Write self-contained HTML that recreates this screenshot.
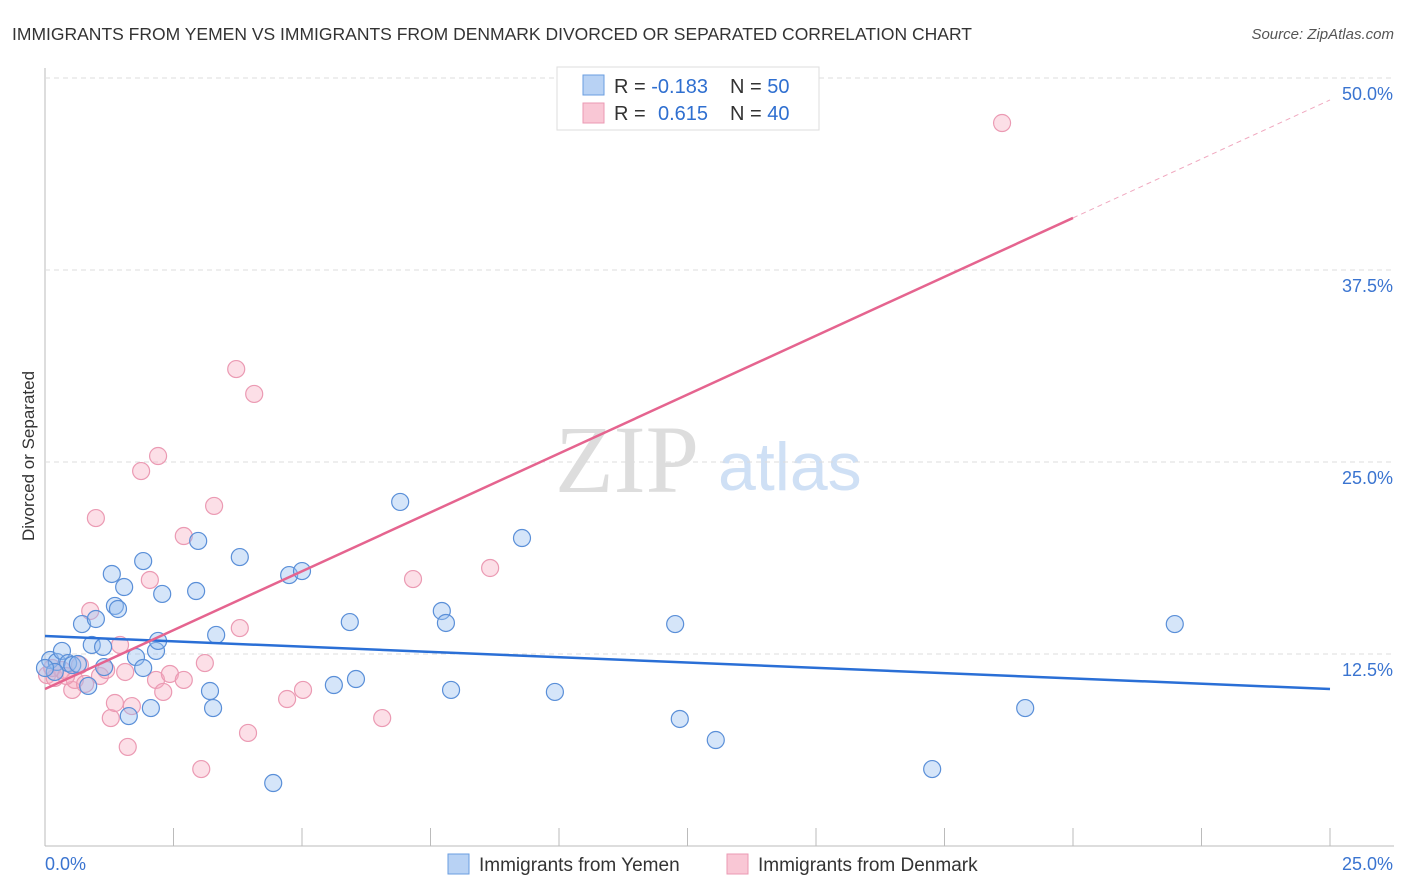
<!DOCTYPE html>
<html><head><meta charset="utf-8"><style>
body{margin:0;background:#fff;font-family:"Liberation Sans",sans-serif}
svg{display:block}
</style></head><body>
<svg id="c" width="1406" height="892" xmlns="http://www.w3.org/2000/svg">
<text x="12" y="40" font-size="17.5" fill="#333">IMMIGRANTS FROM YEMEN VS IMMIGRANTS FROM DENMARK DIVORCED OR SEPARATED CORRELATION CHART</text>
<text x="1394" y="39" font-size="15" fill="#555" font-style="italic" text-anchor="end">Source: ZipAtlas.com</text>
<text x="34" y="456" font-size="17" fill="#333" text-anchor="middle" transform="rotate(-90 34 456)">Divorced or Separated</text>
<text x="555" y="492" font-size="96" fill="#ddd" font-family="Liberation Serif">ZIP</text>
<text x="718" y="490" font-size="68" fill="#cfe0f5">atlas</text>
<g id="grid"></g><g id="pts"></g><g id="lines"></g>
<g>
<rect x="557" y="67" width="262" height="63" fill="#fff" stroke="#ddd"/>
<rect x="583" y="75" width="21" height="20" fill="#b8d2f4" stroke="#6a9ee0"/>
<rect x="583" y="103" width="21" height="20" fill="#f9c7d5" stroke="#eb9ab3"/>
<text x="614" y="93" font-size="20" fill="#333">R = <tspan fill="#2f6fd0">-0.183</tspan><tspan x="730">N = </tspan><tspan fill="#2f6fd0">50</tspan></text>
<text x="614" y="120" font-size="20" fill="#333">R = <tspan x="658" fill="#2f6fd0">0.615</tspan><tspan x="730">N = </tspan><tspan fill="#2f6fd0">40</tspan></text>
</g>
<g>
<rect x="448" y="854" width="21" height="20" fill="#b8d2f4" stroke="#6a9ee0"/>
<text x="479" y="871" font-size="19" fill="#333">Immigrants from Yemen</text>
<rect x="727" y="854" width="21" height="20" fill="#f9c7d5" stroke="#eb9ab3"/>
<text x="758" y="871" font-size="19" fill="#333">Immigrants from Denmark</text>
</g>
</svg>
<script>
const yemenX=[0.10,0.23,0.33,0.45,0.53,0.19,0.72,0.84,0.91,0.99,1.13,1.15,1.30,1.36,1.42,1.54,1.63,1.77,1.91,1.91,2.06,2.16,2.20,2.28,2.94,2.98,3.21,3.27,3.33,3.79,4.44,4.75,5.00,5.62,5.93,6.05,6.91,7.72,7.80,7.90,9.28,9.92,12.26,12.35,13.05,17.26,19.07,21.98,0.64,0.00];
const yemenY=[12.11,11.98,12.70,11.91,11.78,11.33,14.45,10.42,13.09,14.78,12.96,11.65,17.71,15.63,15.43,16.86,8.46,12.30,18.55,11.59,8.98,12.70,13.35,16.41,16.60,19.86,10.09,8.98,13.74,18.81,4.10,17.64,17.90,10.48,14.58,10.87,22.40,15.30,14.52,10.16,20.05,10.03,14.45,8.27,6.90,5.01,8.98,14.45,11.85,11.59];
const denX=[0.04,0.19,0.33,0.53,0.58,0.68,0.88,0.99,1.07,1.19,1.28,1.36,1.46,1.56,1.61,1.69,1.87,2.04,2.16,2.20,2.30,2.43,2.70,2.70,3.04,3.11,3.29,3.72,3.79,3.95,4.07,4.71,5.02,6.56,7.16,8.66,18.62,0.14,0.41,0.78];
const denY=[11.13,10.94,11.46,10.16,10.81,11.78,15.30,21.35,11.07,11.46,8.33,9.31,13.09,11.33,6.45,9.11,24.41,17.32,10.81,25.39,10.03,11.20,20.18,10.81,5.01,11.91,22.14,31.05,14.19,7.36,29.43,9.57,10.16,8.33,17.38,18.10,47.07,11.59,11.07,10.55];
const yTicks=[12.5,25,37.5,50];
const yTickLabels=["12.5%","25.0%","37.5%","50.0%"];
const xTicks=[0,2.5,5,7.5,10,12.5,15,17.5,20,22.5,25];
const yemenTrend=[13.67,10.22];
const denTrend=[10.22,40.89,48.57];
const X=v=>45+v/25*1285, Y=v=>846-v*15.36;
const NS="http://www.w3.org/2000/svg";
function mk(p,t,a){const e=document.createElementNS(NS,t);for(const k in a)e.setAttribute(k,a[k]);p.appendChild(e);return e;}
const g=document.getElementById('grid');
let ax=mk(g,'line',{x1:45,y1:68,x2:45,y2:846,stroke:'#bbb'});


let bx=mk(g,'line',{x1:45,y1:846,x2:1394,y2:846,stroke:'#bbb'});


yTicks.forEach((t,i)=>{
 const l=mk(g,'line',{x1:45,y1:Y(t),x2:1394,y2:Y(t),stroke:'#ddd','stroke-dasharray':'5,4'});
 
 
 const tx=mk(g,'text',{x:1393,y:Y(t)+22,'font-size':18,fill:'#3a74d0','text-anchor':'end'});
 tx.textContent=yTickLabels[i];
 
 
});
xTicks.forEach(t=>{
 const l=mk(g,'line',{x1:X(t),y1:828,x2:X(t),y2:846,stroke:'#bbb'});
 
 
});
let x0=mk(g,'text',{x:45,y:870,'font-size':18,fill:'#3a74d0'});x0.textContent='0.0%';


let x1=mk(g,'text',{x:1393,y:870,'font-size':18,fill:'#3a74d0','text-anchor':'end'});x1.textContent='25.0%';


const P=document.getElementById('pts');
denX.forEach((x,i)=>{
 const c=mk(P,'circle',{cx:X(x),cy:Y(denY[i]),r:8.5,fill:'rgba(246,170,192,0.38)',stroke:'#eb9ab3','stroke-width':1.2});
 
 
});
yemenX.forEach((x,i)=>{
 const c=mk(P,'circle',{cx:X(x),cy:Y(yemenY[i]),r:8.5,fill:'rgba(150,190,240,0.4)',stroke:'#5a8fd8','stroke-width':1.2});
 
 
});
const L=document.getElementById('lines');
let t1=mk(L,'line',{x1:X(0),y1:Y(yemenTrend[0]),x2:X(25),y2:Y(yemenTrend[1]),stroke:'#2a6fd6','stroke-width':2.5});


let t2=mk(L,'line',{x1:X(0),y1:Y(denTrend[0]),x2:X(20),y2:Y(denTrend[1]),stroke:'#e5648f','stroke-width':2.5});


let t3=mk(L,'line',{x1:X(20),y1:Y(denTrend[1]),x2:X(25),y2:Y(denTrend[2]),stroke:'#f0a8bf','stroke-width':1,'stroke-dasharray':'5,4'});


</script>
</body></html>
